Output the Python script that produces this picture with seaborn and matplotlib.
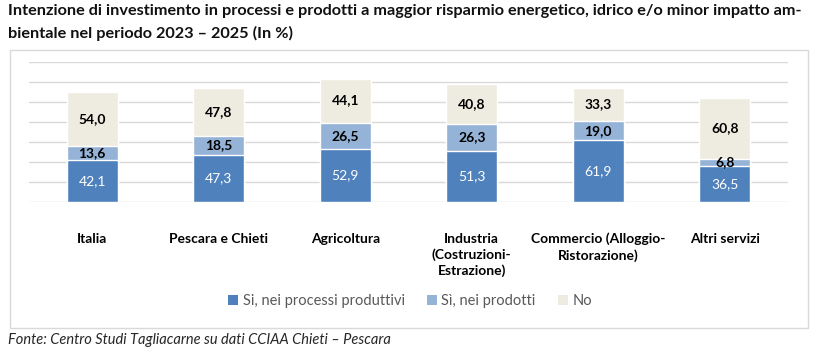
import numpy as np
import pandas as pd
import matplotlib.pyplot as plt
import seaborn as sns
from matplotlib.patches import Rectangle, Patch

# dati (in %)
categorie = ['Italia', 'Pescara e Chieti', 'Agricoltura',
             'Industria\n(Costruzioni-\nEstrazione)',
             'Commercio (Alloggio-\nRistorazione)', 'Altri servizi']
si_processi = [42.1, 47.3, 52.9, 51.3, 61.9, 36.5]
si_prodotti = [13.6, 18.5, 26.5, 26.3, 19.0, 6.8]
no = [54.0, 47.8, 44.1, 40.8, 33.3, 60.8]

serie = ['Si, nei processi produttivi', 'Sì, nei prodotti', 'No']
colori = ['#4F81BD', '#95B3D7', '#EEECE1']

df = pd.DataFrame({'cat': categorie, 'proc': si_processi,
                   'prod': si_prodotti, 'no': no})
df['c1'] = df['proc']
df['c2'] = df['proc'] + df['prod']
df['c3'] = df['c2'] + df['no']

sns.set_style('white')
plt.rcParams['font.family'] = ['Lato', 'DejaVu Sans']

fig = plt.figure(figsize=(8.2, 3.6), dpi=100)
ax = fig.add_axes([29/820, 1-202/360, (788-29)/820, 140/360])

# barre sovrapposte: totale cumulato dall'alto verso il basso
for col, c in zip(['c3', 'c2', 'c1'], colori[::-1]):
    sns.barplot(data=df, x='cat', y=col, color=c, width=0.4,
                saturation=1, ax=ax, zorder=3)

ax.set_ylim(0, 140)
ax.set_xlim(-0.5, 5.5)
ax.set_yticks(np.arange(0, 141, 20))
ax.set_yticklabels([])
ax.yaxis.grid(True, color='#D9D9D9', lw=1, zorder=0)
ax.set_axisbelow(True)
ax.set_xlabel('')
ax.set_ylabel('')
for s in ax.spines.values():
    s.set_visible(False)
ax.tick_params(axis='both', length=0)
ax.tick_params(axis='x', pad=22)
for lab in ax.get_xticklabels():
    lab.set_fontweight('bold')
    lab.set_fontsize(10)
    lab.set_color('#000000')
    lab.set_linespacing(1.35)

# etichette valori
for i in range(len(categorie)):
    ax.text(i, df['proc'][i]/2, f"{df['proc'][i]:.1f}".replace('.', ','),
            ha='center', va='center', color='white', fontsize=10)
    ax.text(i, df['c1'][i] + df['prod'][i]/2, f"{df['prod'][i]:.1f}".replace('.', ','),
            ha='center', va='center', color='black', fontsize=10, fontweight='bold')
    ax.text(i, df['c2'][i] + df['no'][i]/2, f"{df['no'][i]:.1f}".replace('.', ','),
            ha='center', va='center', color='black', fontsize=10, fontweight='bold')

# legenda
handles = [Patch(facecolor=c, edgecolor='none') for c in colori]
leg = fig.legend(handles, serie, loc='center', bbox_to_anchor=(0.5, 1-301/360),
                 ncol=3, frameon=False, fontsize=10.5, handlelength=0.7,
                 handleheight=0.7, handletextpad=0.3, columnspacing=1.5)
for t in leg.get_texts():
    t.set_color('#595959')

# cornice
fig.patches.append(Rectangle((10/820, 1-328/360), 798/820, 278/360,
                             transform=fig.transFigure, fill=False,
                             edgecolor='#D9D9D9', lw=1))

fig.text(8/820, 1-4/360,
         'Intenzione di investimento in processi e prodotti a maggior risparmio energetico, idrico e/o minor impatto am-\nbientale nel periodo 2023 – 2025 (In %)',
         ha='left', va='top', fontsize=11.7, fontweight='bold', linespacing=1.65,
         color='#111111')
fig.text(8/820, 1-340/360, 'Fonte: Centro Studi Tagliacarne su dati CCIAA Chieti – Pescara',
         ha='left', va='center', fontsize=10.5, style='italic')

plt.savefig('out.png', dpi=100)
